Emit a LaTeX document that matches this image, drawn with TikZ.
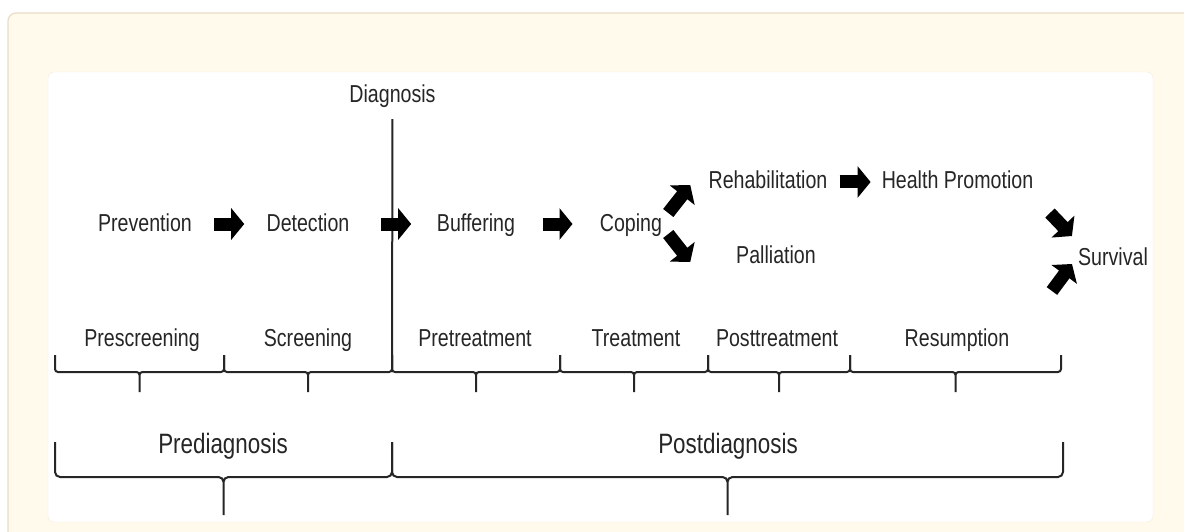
\documentclass[tikz,border=0pt]{standalone}
\usepackage{fontspec}
\setmainfont{Liberation Sans}[FakeStretch=0.8]
\usepackage{tikz}
\usetikzlibrary{positioning,arrows.meta,calc}
\definecolor{panelcream}{RGB}{255,250,236}
\definecolor{paneledge}{RGB}{232,220,200}
\definecolor{cardedge}{RGB}{243,236,222}
\definecolor{inkgray}{RGB}{38,38,38}
\tikzset{
	stage/.style={inner sep=0pt, anchor=base, text=inkgray, text height=18pt, text depth=4pt, font=\fontsize{24.5}{28}\selectfont},
	period/.style={stage, font=\fontsize{28}{32}\selectfont},
	fatarrow/.style={line width=13pt, draw=black, -{Triangle[width=31pt,length=13pt]}},
	bracket/.style={draw=inkgray, line width=2pt, rounded corners=3pt},
	bigbracket/.style={bracket, rounded corners=5pt}
}

\begin{document}
\begin{tikzpicture}[x=1pt, y=-1pt]
	\useasboundingbox (0,0) rectangle (1184,532);
	\fill[white] (0,0) rectangle (1184,532);
	% panels
	\fill[panelcream, rounded corners=8pt] (8,13) rectangle (1200,560);
	\draw[paneledge, line width=1.2pt, rounded corners=8pt] (8,560) -- (8,13) -- (1200,13);
	\draw[cardedge, fill=white, rounded corners=6pt] (48,72) rectangle (1153,522);

	% stages
	\node[stage] (diag) at (392.5,103) {Diagnosis};
	\node[stage] (prev) at (145,231) {Prevention};
	\node[stage] (det) at (308,231) {Detection};
	\node[stage] (buff) at (476,231) {Buffering};
	\node[stage] (cop) at (631,231) {Coping};
	\node[stage] (rehab) at (768,189) {Rehabilitation};
	\node[stage] (health) at (957.5,189) {Health Promotion};
	\node[stage] (pall) at (776,263) {Palliation};
	\node[stage] (surv) at (1113,265) {Survival};

	% phases
	\node[stage] (prescr) at (142,346) {Prescreening};
	\node[stage] (scr) at (308,346) {Screening};
	\node[stage] (pretr) at (475,346) {Pretreatment};
	\node[stage] (treat) at (636,346) {Treatment};
	\node[stage] (posttr) at (777,346) {Posttreatment};
	\node[stage] (resum) at (957,346) {Resumption};
	\node[period] (prediag) at (223,453) {Prediagnosis};
	\node[period] (postdiag) at (728,453) {Postdiagnosis};

	\coordinate (split) at (392,372);
	\draw[bracket, shorten <=12pt] (diag.south) -- (split);

	% arrows
	\draw[fatarrow] ($(prev.east)!.5!(det.west)+(-15,0)$) -- ++(30,0);
	\draw[fatarrow] ($(det.east)!.5!(buff.west)+(-12,0)$) -- ++(30,0);
	\draw[fatarrow] ($(buff.east)!.5!(cop.west)+(-15,0)$) -- ++(30,0);
	\draw[fatarrow] ($(rehab.east)!.5!(health.west)+(-15,0)$) -- ++(31,0);
	\draw[fatarrow] ($(cop.east)+(6,-11)$) -- ++(22,-28);
	\draw[fatarrow] ($(cop.east)+(6,10)$) -- ++(22,28);
	\draw[fatarrow] ($(surv.west)+(-28,-45)$) -- ++(22,23);
	\draw[fatarrow] ($(surv.west)+(-26,33)$) -- ++(20,-27);

	% brackets
	\foreach \xa/\xb in {55/224,224/392,392/560,560/708,708/850,850/1061}
		\draw[bracket] (\xa,355) |- ({(\xa+\xb)/2},372) -- ({(\xa+\xb)/2},392)
			(\xb,355) |- ({(\xa+\xb)/2},372) -- ({(\xa+\xb)/2},392);
	\foreach \xa/\xb in {55/392,392/1063}
		\draw[bigbracket] (\xa,442) |- ({(\xa+\xb)/2},477) -- ({(\xa+\xb)/2},515)
			(\xb,442) |- ({(\xa+\xb)/2},477) -- ({(\xa+\xb)/2},515);
\end{tikzpicture}
\end{document}
